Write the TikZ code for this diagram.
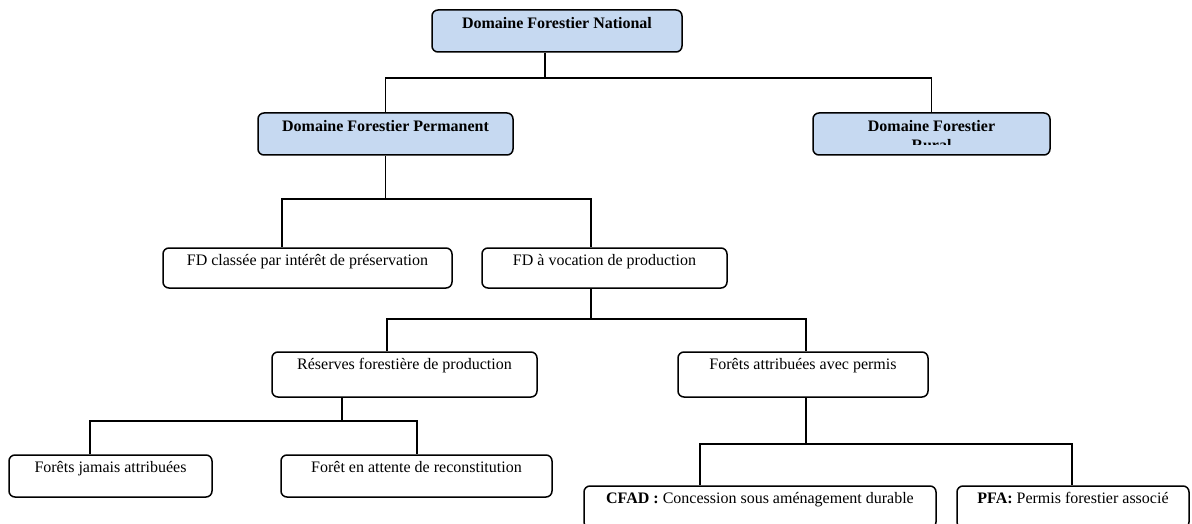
\documentclass[tikz,border=0pt]{standalone}
\usepackage{fontspec}
\setmainfont{Liberation Serif}
\usepackage{tikz}
\usetikzlibrary{calc}
\definecolor{headblue}{RGB}{198,217,241}

\begin{document}
\begin{tikzpicture}[x=1pt,y=-1pt,
	box/.style={draw,line width=1.5pt,rounded corners=6pt,inner sep=0pt,
		text height=17.5pt,text depth=24.5pt,font=\fontsize{16}{18.4}\selectfont},
	head/.style={box,fill=headblue,text height=19pt,text depth=23pt,font=\fontsize{16}{18.4}\selectfont\bfseries},
	link/.style={line width=1.5pt}]

	% Fix the page to the size of the picture
	\useasboundingbox (0,0) rectangle (1192,524);

	% Draw the top level boxes
	\node[head,minimum width=250pt] (nat) at (557,31) {Domaine Forestier National};
	\node[head,minimum width=255pt] (dfp) at (385.5,134) {Domaine Forestier Permanent};
	\node[head,minimum width=237pt] (dfr) at (931.5,134) {Domaine Forestier};

	% Second line of the rural box is cut by the box
	\begin{scope}
		\clip (813,113) rectangle (1050,145);
		\node[anchor=base,inner sep=0pt,font=\fontsize{16}{18.4}\selectfont\bfseries] (dfrb) at (931.5,151) {Rural};
	\end{scope}

	% Draw the forest domain boxes
	\node[box,text depth=22.5pt,minimum width=289pt] (fdc) at (307.5,268) {FD classée par intérêt de préservation};
	\node[box,text depth=22.5pt,minimum width=245pt] (fdv) at (604.5,268) {FD à vocation de production};

	% Draw the production boxes
	\node[box,text depth=27.5pt,minimum width=265pt] (rfp) at (404.5,374.5) {Réserves forestière de production};
	\node[box,text depth=27.5pt,minimum width=250pt] (faa) at (803,374.5) {Forêts attribuées avec permis};

	% Draw the bottom boxes
	\node[box,minimum width=203pt] (fja) at (110.5,476) {Forêts jamais attribuées};
	\node[box,minimum width=271pt] (fea) at (416.5,476) {Forêt en attente de reconstitution};
	\node[box,minimum width=352pt] (cfad) at (760,507) {\textbf{CFAD :} Concession sous aménagement durable};
	\node[box,minimum width=232pt] (pfa) at (1073,507) {\textbf{PFA:} Permis forestier associé};

	% Bus points of the tree
	\coordinate (s1) at (545,78);
	\coordinate (s2l) at (282,199);
	\coordinate (s2r) at (591,199);
	\coordinate (s3l) at (387,319);
	\coordinate (s3r) at (806,319);
	\coordinate (s4) at (342,421);
	\coordinate (s4l) at (90,421);
	\coordinate (s4r) at (417,421);
	\coordinate (s5l) at (700,444);
	\coordinate (s5r) at (1072,444);

	% Draw the connectors
	\draw[link] (nat.south -| s1) -- (s1);
	\draw[link] (dfp.north) |- (s1) -| (dfr.north);

	\draw[link] (dfp.south) -- (dfp.south |- s2l);
	\draw[link] (fdc.north -| s2l) -- (s2l) -- (s2r) -- (fdv.north -| s2r);

	\draw[link] (fdv.south -| s2r) -- (s2r |- s3l);
	\draw[link] (rfp.north -| s3l) -- (s3l) -- (s3r) -- (faa.north -| s3r);

	\draw[link] (rfp.south -| s4) -- (s4);
	\draw[link] (fja.north -| s4l) -- (s4l) -- (s4r) -- (fea.north -| s4r);

	\draw[link] (faa.south -| s3r) -- (s3r |- s5l);
	\draw[link] (cfad.north -| s5l) -- (s5l) -- (s5r) -- (pfa.north -| s5r);

\end{tikzpicture}
\end{document}
